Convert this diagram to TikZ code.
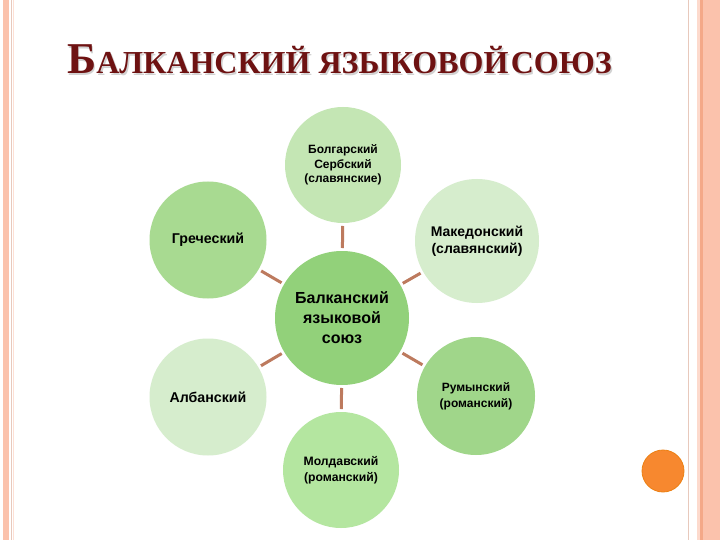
\documentclass[tikz,border=0pt]{standalone}
\usepackage{fontspec}
\setmainfont{Liberation Sans}
\newfontfamily\titlefont{Liberation Serif}
\definecolor{stripeA}{HTML}{FBC2AC}
\definecolor{stripeB}{HTML}{F4A888}
\definecolor{stripeL}{HTML}{E8C9BC}
\definecolor{titlered}{HTML}{6E1212}
\definecolor{connc}{HTML}{BD7A5E}
\definecolor{gCenter}{HTML}{92D17A}
\definecolor{gTop}{HTML}{C4E6B4}
\definecolor{gGreek}{HTML}{A8DA91}
\definecolor{gMac}{HTML}{D6EDCD}
\definecolor{gRom}{HTML}{A0D68A}
\definecolor{gMol}{HTML}{B4E6A0}
\definecolor{gAlb}{HTML}{D6EDCD}
\definecolor{orangedot}{HTML}{F7882F}
\begin{document}
\begin{tikzpicture}[x=1pt,y=-1pt,
  bubble/.style={circle, inner sep=0pt, outer sep=3pt, align=center, text=black,
    font=\bfseries\fontsize{12}{16}\selectfont},
  conn/.style={draw=connc, line width=3pt}]
\useasboundingbox (0,0) rectangle (720,540);
\fill[white] (0,0) rectangle (720,540);
% left border stripes
\fill[stripeA] (3,0) rectangle (9,540);
\draw[stripeL, line width=1pt] (11.5,0) -- (11.5,540);
\draw[stripeA!50, line width=1pt] (13.5,0) -- (13.5,540);
% right border stripes
\draw[stripeL, line width=1.5pt] (688.5,0) -- (688.5,540);
\fill[stripeA!60] (697,0) rectangle (700,540);
\fill[stripeB] (700,0) rectangle (703,540);
\fill[stripeA] (703,0) rectangle (720,540);
% title
\node[anchor=base west, inner sep=0pt, text=gray!35] (titleshadow) at (68.5,75.5)
  {\titlefont\bfseries\fontsize{44}{44}\selectfont Б\fontsize{32}{32}\selectfont АЛКАНСКИЙ ЯЗЫКОВОЙ\hspace{2.5pt}СОЮЗ};
\node[anchor=base west, inner sep=0pt, text=titlered] (title) at (67,74)
  {\titlefont\bfseries\fontsize{44}{44}\selectfont Б\fontsize{32}{32}\selectfont АЛКАНСКИЙ ЯЗЫКОВОЙ\hspace{2.5pt}СОЮЗ};
% circles
\node[bubble, fill=gCenter, minimum size=134pt, font=\bfseries\fontsize{16}{20}\selectfont] (c) at (342,318) {Балканский\\языковой\\союз};
\node[bubble, fill=gTop, minimum size=116pt, font=\bfseries\fontsize{12}{14.5}\selectfont] (t) at (343,165) {Болгарский\\Сербский\\(славянские)};
\node[bubble, fill=gGreek, minimum size=117pt, font=\bfseries\fontsize{14.2}{16}\selectfont] (gr) at (208,240) {Греческий};
\node[bubble, fill=gMac, minimum size=124pt, font=\bfseries\fontsize{14}{16.5}\selectfont] (mk) at (477,241) {Македонский\\(славянский)};
\node[bubble, fill=gAlb, minimum size=117pt, font=\bfseries\fontsize{14.2}{16}\selectfont] (al) at (208,397) {Албанский};
\node[bubble, fill=gRom, minimum size=118pt, font=\bfseries\fontsize{12}{16}\selectfont] (ro) at (476,396) {Румынский\\(романский)};
\node[bubble, fill=gMol, minimum size=116pt, font=\bfseries\fontsize{12.2}{16}\selectfont] (mo) at (341,470) {Молдавский\\(романский)};
% connectors
\draw[conn] (c) -- (t);
\draw[conn] (c) -- (gr);
\draw[conn] (c) -- (mk);
\draw[conn] (c) -- (al);
\draw[conn] (c) -- (ro);
\draw[conn] (c) -- (mo);
% orange dot
\node[circle, inner sep=0pt, minimum size=42pt, fill=orangedot, draw=orange!70!brown, line width=0.8pt] (dot) at (663,471) {};
\end{tikzpicture}
\end{document}
